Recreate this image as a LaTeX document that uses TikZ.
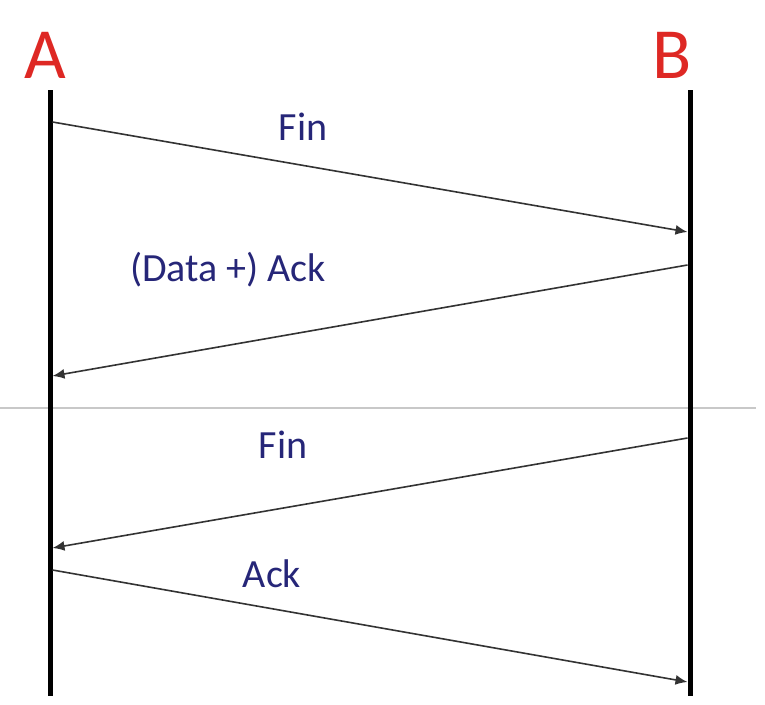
\documentclass[tikz,border=0pt]{standalone}
\usepackage{fontspec}
\setmainfont{Carlito}
\usetikzlibrary{arrows.meta}
\definecolor{lblblue}{RGB}{38,38,120}
\definecolor{hdred}{RGB}{222,40,36}
\definecolor{sepgray}{RGB}{200,200,200}
\begin{document}
\begin{tikzpicture}[x=1pt,y=-1pt,
  lifeline/.style={line width=5pt,black},
  msg/.style={line width=1.6pt,draw=black!80,-{Latex[length=12pt,width=10pt]}},
  msglabel/.style={text=lblblue,font=\fontsize{40}{48}\selectfont,inner sep=0pt},
  head/.style={text=hdred,font=\fontsize{72}{80}\selectfont,inner sep=0pt}]
\useasboundingbox (0,0) rectangle (765,704);
% separator
\coordinate (sepL) at (0,408);
\coordinate (sepR) at (756,408);
\draw[sepgray,line width=1.2pt] (sepL) -- (sepR);
% headers
\node[head] (A) at (45,55) {A};
\node[head] (B) at (672,55) {B};
% lifelines
\coordinate (Atop) at (50,90);
\coordinate (Abot) at (50,696);
\coordinate (Btop) at (690,90);
\coordinate (Bbot) at (690,696);
\draw[lifeline] (Atop) -- (Abot);
\draw[lifeline] (Btop) -- (Bbot);
% message endpoints
\coordinate (a1) at (52.5,122);
\coordinate (b1) at (687.5,232);
\coordinate (b2) at (687.5,265);
\coordinate (a2) at (52.5,376);
\coordinate (b3) at (687.5,438);
\coordinate (a3) at (52.5,548);
\coordinate (a4) at (52.5,570);
\coordinate (b4) at (687.5,682);
\draw[msg] (a1) -- (b1);
\draw[msg] (b2) -- (a2);
\draw[msg] (b3) -- (a3);
\draw[msg] (a4) -- (b4);
% labels
\node[msglabel] (l1) at (303,127) {Fin};
\node[msglabel] (l2) at (228,270) {(Data +) Ack};
\node[msglabel] (l3) at (283,445) {Fin};
\node[msglabel] (l4) at (272,574) {Ack};
\end{tikzpicture}
\end{document}
